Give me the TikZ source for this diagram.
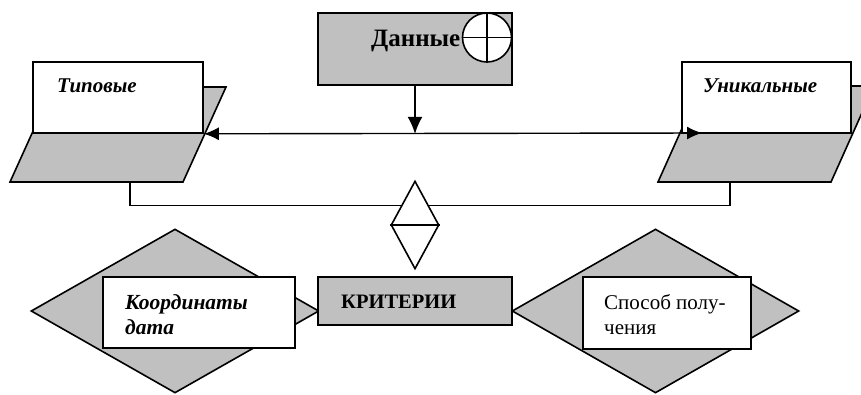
\documentclass[tikz,border=0pt]{standalone}
\usepackage{fontspec}
\setmainfont{Liberation Serif}
\usetikzlibrary{shapes.geometric,arrows.meta,calc}
\definecolor{shade}{RGB}{192,192,192}
\tikzset{
  box/.style={draw=black,line width=1.6pt,rectangle,inner sep=0pt},
  graybox/.style={box,fill=shade},
  whitebox/.style={box,fill=white},
  bigdia/.style={draw=black,line width=1.6pt,diamond,inner sep=0pt,fill=shade},
  para/.style={draw=black,line width=1.6pt,fill=shade,line join=miter},
  conn/.style={draw=black,line width=1.4pt},
  arr/.style={-{Latex[length=17pt,width=15pt]}},
  darr/.style={{Latex[length=15pt,width=13pt]}-{Latex[length=15pt,width=13pt]}},
  lbl/.style={anchor=base west,inner sep=0pt},
}
\begin{document}
\begin{tikzpicture}[x=1pt,y=-1pt]
\clip (0,0) rectangle (861,394);
\fill[white] (0,0) rectangle (861,394);
% top data box
\node[graybox,minimum width=194pt,minimum height=72pt] (dan) at (415,49) {};
\node[whitebox,circle,minimum size=49pt] (circ) at (487,37.5) {};
\draw[line width=1.6pt] (circ.north) -- (circ.south) (circ.west) -- (circ.east);
\node[lbl,font=\fontsize{25}{29}\selectfont\bfseries] (dantext) at (371,46) {Данные};
% parallelograms
\draw[para] (53,87) -- (226,87) -- (183,182) -- (10,182) -- cycle;
\draw[para] (701,86) -- (874,86) -- (831,182) -- (658,182) -- cycle;
\coordinate (tipbot) at (130,182);
\coordinate (unibot) at (730,182);
\node[whitebox,minimum width=170pt,minimum height=71pt] (tip) at (118,97.5) {};
\node[whitebox,minimum width=169pt,minimum height=71pt] (uni) at (766.5,97.5) {};
\node[lbl,font=\fontsize{21}{25}\selectfont\bfseries\itshape] (tiptext) at (57,92) {Типовые};
\node[lbl,font=\fontsize{21}{25}\selectfont\bfseries\itshape] (unitext) at (703,92) {Уникальные};
% connectors
\coordinate (uarr) at (702,133);
\draw[conn,arr] (dan.south) -- (dan.south |- tip.south);
\draw[conn,darr] (tip.south east) -- (uarr);
% junction diamond
\node[draw=black,line width=1.6pt,diamond,inner sep=0pt,minimum width=48pt,minimum height=88pt,fill=white] (jd) at (415,225) {};
\draw[line width=1.6pt] (jd.west) -- (jd.east);
\draw[conn] (tipbot) |- ($(jd.north)!0.568!(jd.west)$);
\draw[conn] (unibot) |- ($(jd.north)!0.568!(jd.east)$);
% lower part
\node[bigdia,minimum width=288pt,minimum height=164pt] (ld) at (175,311) {};
\node[bigdia,minimum width=287pt,minimum height=164pt] (rd) at (655.5,311) {};
\node[graybox,minimum width=194pt,minimum height=48pt] (krit) at (415,301) {};
\node[whitebox,minimum width=192pt,minimum height=71pt] (koord) at (199,312.5) {};
\node[whitebox,minimum width=168pt,minimum height=72pt] (spos) at (667,313) {};
\node[lbl,font=\fontsize{20.5}{24}\selectfont\bfseries] (krittext) at (341,308) {КРИТЕРИИ};
\node[lbl,font=\fontsize{21.5}{25}\selectfont\bfseries\itshape] (k1) at (125,309) {Координаты};
\node[lbl,font=\fontsize{21.5}{25}\selectfont\bfseries\itshape] (k2) at (125,334) {дата};
\node[lbl,font=\fontsize{21}{25}\selectfont] (s1) at (604,309) {Способ полу-};
\node[lbl,font=\fontsize{21}{25}\selectfont] (s2) at (604,334) {чения};
\end{tikzpicture}
\end{document}
